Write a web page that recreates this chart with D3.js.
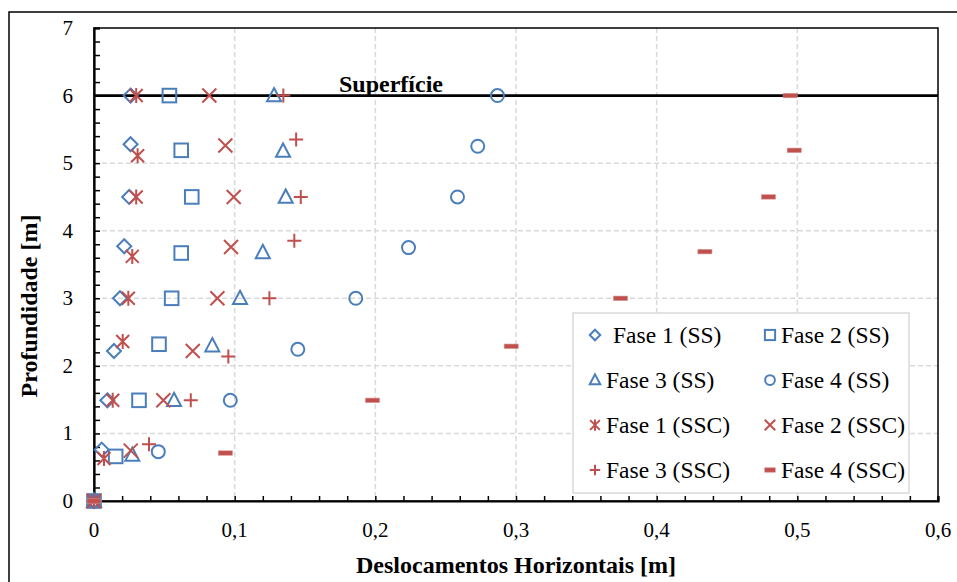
<!DOCTYPE html>
<html>
<head>
<meta charset="utf-8">
<script src="https://cdn.jsdelivr.net/npm/d3@7"></script>
<style>
  html, body { margin: 0; padding: 0; background: #fff; }
  svg { display: block; }
  text { font-family: "Liberation Serif", "Times New Roman", serif; }
</style>
</head>
<body>
<svg id="chart" width="957" height="582"></svg>
<script>
// ---------------- DATA ----------------
const xTicks = [0, 0.1, 0.2, 0.3, 0.4, 0.5, 0.6];
const xTickLabels = ["0", "0,1", "0,2", "0,3", "0,4", "0,5", "0,6"];
const yTicks = [0, 1, 2, 3, 4, 5, 6, 7];
const yTickLabels = ["0", "1", "2", "3", "4", "5", "6", "7"];
const xTitle = "Deslocamentos Horizontais [m]";
const yTitle = "Profundidade [m]";
const surfaceLabel = "Superfície";
const surfaceDepth = 6;

// displacement (x) / depth (y) per series
const fase1SS_x  = [0.026, 0.026, 0.025, 0.0215, 0.0185, 0.0142, 0.0095, 0.0055, 0];
const fase1SS_y  = [6.0, 5.28, 4.5, 3.77, 3.0, 2.22, 1.49, 0.76, 0];
const fase2SS_x  = [0.0536, 0.062, 0.0695, 0.062, 0.0552, 0.0462, 0.032, 0.0154, 0];
const fase2SS_y  = [6.0, 5.19, 4.5, 3.67, 3.0, 2.32, 1.49, 0.66, 0];
const fase3SS_x  = [0.128, 0.1344, 0.1363, 0.12, 0.1038, 0.0841, 0.0569, 0.0272, 0];
const fase3SS_y  = [6.0, 5.18, 4.5, 3.68, 3.0, 2.3, 1.49, 0.68, 0];
const fase4SS_x  = [0.2868, 0.2728, 0.2584, 0.2236, 0.1861, 0.1449, 0.0969, 0.0457, 0];
const fase4SS_y  = [6.0, 5.25, 4.5, 3.75, 3.0, 2.245, 1.49, 0.73, 0];
const fase1SSC_x = [0.030, 0.031, 0.030, 0.0272, 0.0244, 0.0204, 0.0133, 0.0071, 0];
const fase1SSC_y = [6.0, 5.11, 4.5, 3.62, 3.0, 2.36, 1.49, 0.63, 0];
const fase2SSC_x = [0.082, 0.0934, 0.0993, 0.0974, 0.0877, 0.0702, 0.0493, 0.0261, 0];
const fase2SSC_y = [6.0, 5.26, 4.5, 3.76, 3.0, 2.22, 1.49, 0.745, 0];
const fase3SSC_x = [0.1346, 0.1437, 0.147, 0.1424, 0.1247, 0.0955, 0.0688, 0.0391, 0];
const fase3SSC_y = [6.0, 5.35, 4.5, 3.85, 3.0, 2.14, 1.49, 0.84, 0];
const fase4SSC_x = [0.4949, 0.4978, 0.4795, 0.4343, 0.3743, 0.2966, 0.198, 0.0934, 0];
const fase4SSC_y = [6.0, 5.19, 4.5, 3.69, 3.0, 2.29, 1.49, 0.71, 0];

const seriesNames = ["Fase 1 (SS)", "Fase 2 (SS)", "Fase 3 (SS)", "Fase 4 (SS)",
                     "Fase 1 (SSC)", "Fase 2 (SSC)", "Fase 3 (SSC)", "Fase 4 (SSC)"];

// ---------------- STYLE ----------------
const BLUE = "#4A7EBB", RED = "#C0504D";
const series = [
  {name: seriesNames[0], xs: fase1SS_x,  ys: fase1SS_y,  shape: "diamond",  color: BLUE},
  {name: seriesNames[1], xs: fase2SS_x,  ys: fase2SS_y,  shape: "square",   color: BLUE},
  {name: seriesNames[2], xs: fase3SS_x,  ys: fase3SS_y,  shape: "triangle", color: BLUE},
  {name: seriesNames[3], xs: fase4SS_x,  ys: fase4SS_y,  shape: "circle",   color: BLUE},
  {name: seriesNames[4], xs: fase1SSC_x, ys: fase1SSC_y, shape: "star",     color: RED},
  {name: seriesNames[5], xs: fase2SSC_x, ys: fase2SSC_y, shape: "x",        color: RED},
  {name: seriesNames[6], xs: fase3SSC_x, ys: fase3SSC_y, shape: "plus",     color: RED},
  {name: seriesNames[7], xs: fase4SSC_x, ys: fase4SSC_y, shape: "dash",     color: RED}
];

const svg = d3.select("#chart");
const W = 957, H = 582;
const plot = {left: 94, right: 938, top: 28, bottom: 501};

const x = d3.scaleLinear().domain([0, 0.6]).range([plot.left, plot.right]);
const y = d3.scaleLinear().domain([0, 7]).range([plot.bottom, plot.top]);

// outer chart border (extends beyond view on right/bottom)
svg.append("rect").attr("x", 9).attr("y", 12).attr("width", W + 20).attr("height", H + 20)
  .attr("fill", "none").attr("stroke", "#000").attr("stroke-width", 1.5);

// gridlines
const grid = svg.append("g");
grid.selectAll("line.vg").data(xTicks.slice(1, -1)).enter().append("line")
  .attr("x1", d => x(d)).attr("x2", d => x(d))
  .attr("y1", plot.top).attr("y2", plot.bottom)
  .attr("stroke", "#D9D9D9").attr("stroke-width", 1.5).attr("stroke-dasharray", "5,3");
grid.selectAll("line.hg").data(yTicks.slice(1, -1)).enter().append("line")
  .attr("y1", d => y(d)).attr("y2", d => y(d))
  .attr("x1", plot.left).attr("x2", plot.right)
  .attr("stroke", "#D9D9D9").attr("stroke-width", 1.5).attr("stroke-dasharray", "5,3");

// plot frame
svg.append("rect").attr("x", plot.left).attr("y", plot.top)
  .attr("width", plot.right - plot.left).attr("height", plot.bottom - plot.top)
  .attr("fill", "none").attr("stroke", "#000").attr("stroke-width", 1.5);

// axes via d3 axis generators
const xMinor = d3.range(0, 0.6001, 0.02);
const yMinor = d3.range(0, 7.0001, 0.2);
const xAxis = d3.axisBottom(x).tickValues(xMinor).tickSize(-5).tickFormat("");
const yAxis = d3.axisLeft(y).tickValues(yMinor).tickSize(-6).tickFormat("");
const gx = svg.append("g").attr("transform", `translate(0,${plot.bottom})`).call(xAxis);
const gy = svg.append("g").attr("transform", `translate(${plot.left},0)`).call(yAxis);
[gx, gy].forEach(g => {
  g.select(".domain").attr("stroke", "#000").attr("stroke-width", 2.2);
  g.selectAll(".tick line").attr("stroke", "#000").attr("stroke-width", 1.5);
});

// tick labels
svg.append("g").selectAll("text").data(xTicks).enter().append("text")
  .attr("x", d => x(d)).attr("y", plot.bottom + 36)
  .attr("text-anchor", "middle").attr("font-size", 21)
  .text((d, i) => xTickLabels[i]);
svg.append("g").selectAll("text").data(yTicks).enter().append("text")
  .attr("x", plot.left - 21).attr("y", d => y(d) + 7)
  .attr("text-anchor", "end").attr("font-size", 21)
  .text((d, i) => yTickLabels[i]);

// axis titles
svg.append("text").attr("x", (plot.left + plot.right) / 2).attr("y", 573)
  .attr("text-anchor", "middle").attr("font-size", 24).attr("font-weight", "bold").text(xTitle);
svg.append("text").attr("transform", "translate(37,306) rotate(-90)")
  .attr("text-anchor", "middle").attr("font-size", 24).attr("font-weight", "bold").text(yTitle);

// surface line & label
svg.append("line").attr("x1", plot.left).attr("x2", plot.right)
  .attr("y1", y(surfaceDepth)).attr("y2", y(surfaceDepth))
  .attr("stroke", "#000").attr("stroke-width", 2.8);
svg.append("text").attr("x", 339).attr("y", y(surfaceDepth) - 4)
  .attr("font-size", 24).attr("font-weight", "bold").text(surfaceLabel);

// marker drawing
function drawMarker(g, shape, color, s) {
  const sw = 2;
  switch (shape) {
    case "diamond":
      g.append("path").attr("d", `M0,${-7*s}L${7*s},0L0,${7*s}L${-7*s},0Z`)
        .attr("fill", "none").attr("stroke", color).attr("stroke-width", sw); break;
    case "square":
      g.append("rect").attr("x", -6.8*s).attr("y", -6.8*s).attr("width", 13.6*s).attr("height", 13.6*s)
        .attr("fill", "none").attr("stroke", color).attr("stroke-width", sw); break;
    case "triangle":
      g.append("path").attr("d", `M0,${-7.5*s}L${7*s},${5.8*s}L${-7*s},${5.8*s}Z`)
        .attr("fill", "none").attr("stroke", color).attr("stroke-width", sw); break;
    case "circle":
      g.append("circle").attr("r", 6.5*s)
        .attr("fill", "none").attr("stroke", color).attr("stroke-width", sw); break;
    case "star":
      g.append("path").attr("d", `M${-6.5*s},${-6.5*s}L${6.5*s},${6.5*s}M${6.5*s},${-6.5*s}L${-6.5*s},${6.5*s}M0,${-7.5*s}L0,${7.5*s}`)
        .attr("stroke", color).attr("stroke-width", sw).attr("fill", "none"); break;
    case "x":
      g.append("path").attr("d", `M${-7*s},${-7*s}L${7*s},${7*s}M${7*s},${-7*s}L${-7*s},${7*s}`)
        .attr("stroke", color).attr("stroke-width", sw).attr("fill", "none"); break;
    case "plus":
      g.append("path").attr("d", `M${-7*s},0L${7*s},0M0,${-7*s}L0,${7*s}`)
        .attr("stroke", color).attr("stroke-width", sw).attr("fill", "none"); break;
    case "dash":
      g.append("rect").attr("x", -7*s).attr("y", -2.2).attr("width", 14*s).attr("height", 4.4)
        .attr("fill", color).attr("stroke", "#D88A88").attr("stroke-width", 0.6); break;
  }
}

// points
const pts = svg.append("g");
series.forEach(se => {
  const data = se.xs.map((v, i) => ({x: v, y: se.ys[i]}));
  pts.append("g").selectAll("g").data(data).enter().append("g")
    .attr("transform", d => `translate(${x(d.x)},${y(d.y)})`)
    .each(function() { drawMarker(d3.select(this), se.shape, se.color, 1); });
});

// legend
const leg = svg.append("g");
leg.append("rect").attr("x", 573).attr("y", 313).attr("width", 336).attr("height", 180)
  .attr("fill", "#fff").attr("stroke", "#D9D9D9").attr("stroke-width", 1.5);
const rowY = [335, 380, 425, 470];
const colMX = [595, 770];
const colTX = [606, 781];
series.forEach((se, i) => {
  const r = Math.floor(i / 2), c = i % 2;
  const g = leg.append("g").attr("transform", `translate(${colMX[c]},${rowY[r]})`);
  drawMarker(g, se.shape, se.color, 0.75);
  leg.append("text").attr("x", colTX[c] + (i === 0 ? 7 : 0)).attr("y", rowY[r] + 8)
    .attr("font-size", 23.5).text(se.name);
});
</script>
</body>
</html>
